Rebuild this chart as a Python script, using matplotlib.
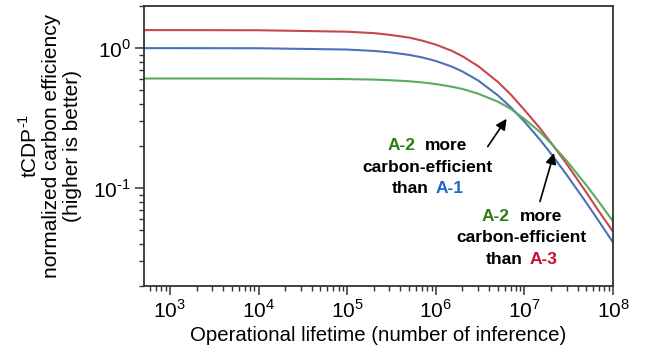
import matplotlib
matplotlib.use("Agg")
import matplotlib.pyplot as plt
from matplotlib.offsetbox import TextArea, HPacker, VPacker, AnnotationBbox

plt.rcParams['font.family'] = ['Liberation Sans', 'DejaVu Sans']
plt.rcParams['mathtext.fontset'] = 'custom'
plt.rcParams['mathtext.rm'] = 'Liberation Sans'

# operational lifetime (number of inference)
lifetime = [5e2, 1e3, 1e4, 1e5, 2e5, 3e5, 5e5, 7e5, 1e6, 1.5e6, 2e6, 3e6, 5e6, 7e6,
            1e7, 1.5e7, 2e7, 3e7, 5e7, 7e7, 1e8]

# normalized carbon efficiency
eff_a3 = [1.345, 1.345, 1.342, 1.31, 1.28, 1.245, 1.19, 1.132, 1.06, 0.96, 0.875,
          0.745, 0.575, 0.468, 0.362, 0.268, 0.211, 0.149, 0.0932, 0.0677, 0.049]
eff_a1 = [1.0, 1.0, 0.998, 0.977, 0.955, 0.934, 0.895, 0.859, 0.81, 0.74, 0.681,
          0.588, 0.461, 0.379, 0.299, 0.222, 0.176, 0.1246, 0.0787, 0.0575, 0.041]
eff_a2 = [0.607, 0.607, 0.607, 0.601, 0.596, 0.59, 0.58, 0.569, 0.554, 0.531, 0.511,
          0.473, 0.415, 0.369, 0.312, 0.252, 0.209, 0.157, 0.105, 0.0792, 0.058]

c_red = '#c8464f'
c_blue = '#4a72b8'
c_green = '#5aab5c'
t_green = '#2e7d12'
t_blue = '#1a66cc'
t_red = '#c0102e'

fig = plt.figure(figsize=(6.47, 3.52), dpi=100)
ax = fig.add_axes([0.2226, 0.1875, 0.7248, 0.7955])

ax.plot(lifetime, eff_a3, color=c_red, lw=1.5)
ax.plot(lifetime, eff_a1, color=c_blue, lw=1.5)
ax.plot(lifetime, eff_a2, color=c_green, lw=1.5)

ax.set_xscale('log')
ax.set_yscale('log')
ax.set_xlim(510, 1e8)
ax.set_ylim(0.02, 2.0)

ax.set_yticks([1e-1, 1e0])
ax.set_yticklabels([r'10$^{\text{-1}}$', r'10$^{\text{0}}$'])
ax.set_xticks([1e3, 1e4, 1e5, 1e6, 1e7, 1e8])
ax.set_xticklabels([r'10$^{\text{%d}}$' % p for p in range(3, 9)])

for sp in ax.spines.values():
    sp.set_color('#333333')
    sp.set_linewidth(1.3)

ax.tick_params(which='major', direction='out', length=6.5, width=1.1,
               color='#333333', labelsize=15, pad=3)
ax.tick_params(which='minor', direction='out', length=3.5, width=1.0,
               color='#333333')
ax.tick_params(axis='y', which='minor', labelleft=False)
ax.tick_params(axis='x', which='minor', labelbottom=False)

ax.set_xlabel('Operational lifetime (number of inference)', fontsize=14.7, labelpad=3)
ax.set_ylabel('tCDP$^{\\text{-1}}$\nnormalized carbon efficiency\n(higher is better)',
              fontsize=15, labelpad=8, linespacing=1.12)


def note(rival, rival_color, xy):
    fs = 12.5
    kw = dict(fontsize=fs, fontweight='bold')
    line1 = HPacker(children=[TextArea('A-2', textprops=dict(color=t_green, **kw)),
                              TextArea('more', textprops=dict(color='black', **kw))],
                    pad=0, sep=7, align='baseline')
    line2 = TextArea('carbon-efficient', textprops=dict(color='black', **kw))
    line3 = HPacker(children=[TextArea('than', textprops=dict(color='black', **kw)),
                              TextArea(rival, textprops=dict(color=rival_color, **kw))],
                    pad=0, sep=5, align='baseline')
    box = VPacker(children=[line1, line2, line3], pad=0, sep=4.5, align='center')
    ab = AnnotationBbox(box, xy, xycoords='data', frameon=False, box_alignment=(0.5, 0.5))
    ax.add_artist(ab)


note('A-1', t_blue, (8.0e5, 0.141))
note('A-3', t_red, (9.4e6, 0.0442))

arrow = dict(arrowstyle='-|>', color='black', lw=1.2, mutation_scale=16,
             shrinkA=0, shrinkB=0)
ax.annotate('', xy=(6.3e6, 0.313), xytext=(3.86e6, 0.198), arrowprops=arrow)
ax.annotate('', xy=(2.16e7, 0.178), xytext=(1.5e7, 0.0802), arrowprops=arrow)

fig.savefig('out.png', dpi=100)
